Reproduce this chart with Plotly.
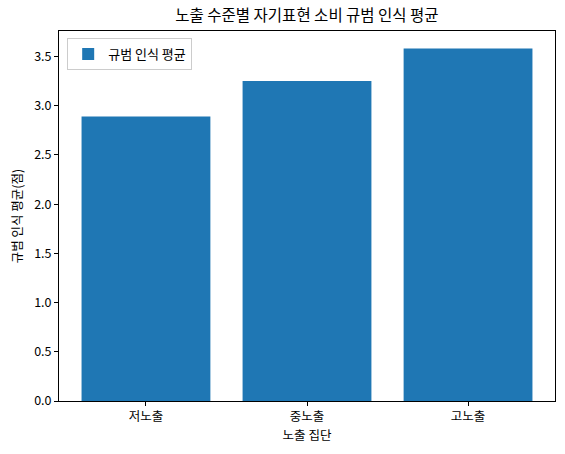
import plotly.graph_objects as go

groups = ["저노출", "중노출", "고노출"]
norm_mean = [2.89, 3.25, 3.58]
y_ticks = [0.0, 0.5, 1.0, 1.5, 2.0, 2.5, 3.0, 3.5]

font = "Noto Sans CJK KR"

fig = go.Figure()
fig.add_trace(go.Bar(x=groups, y=norm_mean, name="규범 인식 평균",
                     marker=dict(color="#1f77b4", line=dict(width=0)),
                     width=0.8, showlegend=True))

fig.update_layout(
    width=565, height=454,
    margin=dict(l=58.5, r=10, t=31, b=53),
    paper_bgcolor="white", plot_bgcolor="white",
    font=dict(family=font, size=12, color="black"),
    title=dict(text="노출 수준별 자기표현 소비 규범 인식 평균", x=0.5, xanchor="center",
               xref="paper", y=1 - 16 / 454, yanchor="middle", font=dict(size=15.5)),
    legend=dict(x=0.0165, y=0.981, xanchor="left", yanchor="top",
                bordercolor="#cccccc", borderwidth=1, bgcolor="rgba(255,255,255,0.8)",
                font=dict(size=13), tracegroupgap=0),
    bargap=0.2,
)
fig.update_xaxes(range=[-0.54, 2.54], showline=True, mirror=True, linecolor="black",
                 linewidth=1, ticks="outside", ticklen=4, tickcolor="black",
                 tickfont=dict(size=12.5), automargin=False,
                 title=dict(text="노출 집단", standoff=6, font=dict(size=12.5)),
                 showgrid=False)
fig.update_yaxes(range=[0, 3.759], showline=True, mirror=True, linecolor="black",
                 linewidth=1, ticks="outside", ticklen=4, tickcolor="black",
                 tickvals=y_ticks, ticktext=[f"{v:.1f}" for v in y_ticks],
                 tickfont=dict(size=12.5), automargin=False,
                 title=dict(text="규범 인식 평균(점)", standoff=8, font=dict(size=12.5)),
                 showgrid=False, zeroline=False)

# page body has a default 8px margin; drop it so the figure sits at 0,0
fig.write_html("out.html", config={"displayModeBar": False},
               post_script="document.body.style.margin='0';document.body.style.overflow='hidden';")
